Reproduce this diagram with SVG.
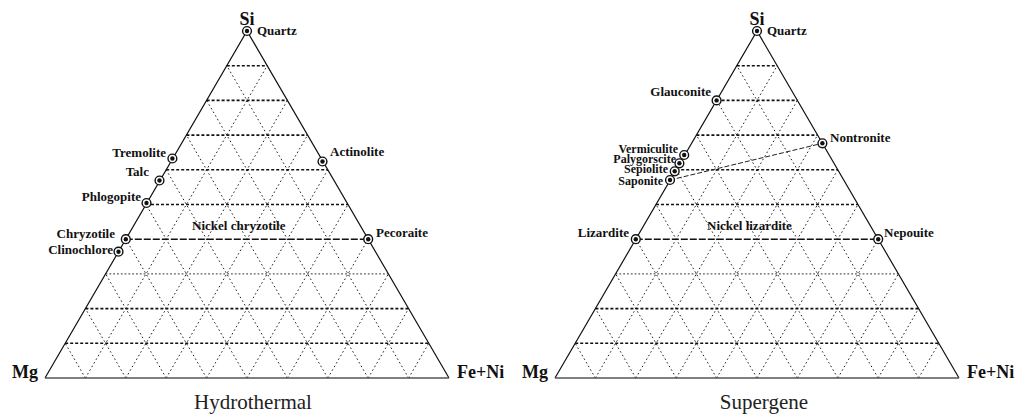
<svg xmlns="http://www.w3.org/2000/svg" xmlns:xlink="http://www.w3.org/1999/xlink" width="1016" height="415" viewBox="0 0 1016 415">
<style>
.bg{fill:#fff}
.tri{fill:none;stroke:#111;stroke-width:1.2}
.base{stroke:#555;stroke-width:1.6}
.diag{stroke:#222;stroke-width:1;stroke-dasharray:1.6 2.6;fill:none}
.hb{stroke:#111;stroke-width:1.6;stroke-dasharray:3 2;fill:none}
.ht{stroke:#333;stroke-width:1;stroke-dasharray:1.8 2;fill:none}
.conn{stroke:#111;stroke-width:1.4;stroke-dasharray:7 2;fill:none}
.conn2{stroke:#222;stroke-width:1;stroke-dasharray:5 2;fill:none}
.lbl{font-family:"Liberation Serif","Times New Roman",serif;font-weight:bold;font-size:13px;fill:#111}
.sm{font-size:12px}
.ax{font-family:"Liberation Serif","Times New Roman",serif;font-weight:bold;font-size:18px;fill:#111}
.cap{font-family:"Liberation Serif","Times New Roman",serif;font-size:21px;fill:#222}
.ring{fill:#fff;stroke:#111;stroke-width:1.4}
.dot{fill:#111}
</style>
<defs>
<g id="grid">
<g class="diag">
<line x1="85.4" y1="378" x2="267.2" y2="65.7"/>
<line x1="125.8" y1="378" x2="287.4" y2="100.4"/>
<line x1="166.2" y1="378" x2="307.6" y2="135.1"/>
<line x1="206.6" y1="378" x2="327.8" y2="169.8"/>
<line x1="247" y1="378" x2="348" y2="204.5"/>
<line x1="287.4" y1="378" x2="368.2" y2="239.2"/>
<line x1="327.8" y1="378" x2="388.4" y2="273.9"/>
<line x1="368.2" y1="378" x2="408.6" y2="308.6"/>
<line x1="408.6" y1="378" x2="428.8" y2="343.3"/>
<line x1="85.4" y1="378" x2="65.2" y2="343.3"/>
<line x1="125.8" y1="378" x2="85.4" y2="308.6"/>
<line x1="166.2" y1="378" x2="105.6" y2="273.9"/>
<line x1="206.6" y1="378" x2="125.8" y2="239.2"/>
<line x1="247" y1="378" x2="146" y2="204.5"/>
<line x1="287.4" y1="378" x2="166.2" y2="169.8"/>
<line x1="327.8" y1="378" x2="186.4" y2="135.1"/>
<line x1="368.2" y1="378" x2="206.6" y2="100.4"/>
<line x1="408.6" y1="378" x2="226.8" y2="65.7"/>
</g>
<g>
<line class="hb" x1="65.2" y1="343.3" x2="428.8" y2="343.3"/>
<line class="hb" x1="85.4" y1="308.6" x2="408.6" y2="308.6"/>
<line class="ht" x1="105.6" y1="273.9" x2="388.4" y2="273.9"/>
<line class="hb" x1="146" y1="204.5" x2="348" y2="204.5"/>
<line class="hb" x1="166.2" y1="169.8" x2="327.8" y2="169.8"/>
<line class="hb" x1="186.4" y1="135.1" x2="307.6" y2="135.1"/>
<line class="hb" x1="206.6" y1="100.4" x2="287.4" y2="100.4"/>
<line class="hb" x1="226.8" y1="65.7" x2="267.2" y2="65.7"/>
</g>
<polyline class="tri" points="45,378 247,31 449,378"/>
<line class="base" x1="45" y1="378" x2="449" y2="378"/>
</g>
<g id="pt"><circle class="ring" r="4.4"/><circle class="dot" r="2.2"/></g>
</defs>
<rect class="bg" width="1016" height="415"/>

<g id="triangle-hydrothermal"><use xlink:href="#grid"/></g>
<g id="triangle-supergene"><use xlink:href="#grid" transform="translate(510,0)"/></g>

<g id="connectors">
<line class="conn" x1="125.8" y1="239.2" x2="368.2" y2="239.2"/>
<line class="conn" x1="635.8" y1="239.2" x2="878.2" y2="239.2"/>
<line class="conn2" x1="670" y1="180" x2="822.4" y2="143.3"/>
</g>

<g id="axes">
<text class="ax" x="247" y="25" text-anchor="middle">Si</text>
<text class="ax" x="12" y="378">Mg</text>
<text class="ax" x="457" y="378">Fe+Ni</text>
<text class="ax" x="757" y="25" text-anchor="middle">Si</text>
<text class="ax" x="522" y="378">Mg</text>
<text class="ax" x="967" y="378">Fe+Ni</text>
<text class="cap" x="253" y="409" text-anchor="middle">Hydrothermal</text>
<text class="cap" x="764" y="409" text-anchor="middle">Supergene</text>
</g>

<g id="quartz-h"><use xlink:href="#pt" x="247" y="31"/><text class="lbl" x="257" y="35">Quartz</text></g>
<g id="tremolite"><use xlink:href="#pt" x="172.4" y="158.5"/><text class="lbl" x="166" y="157" text-anchor="end">Tremolite</text></g>
<g id="talc"><use xlink:href="#pt" x="159.5" y="180.5"/><text class="lbl" x="149" y="176" text-anchor="end">Talc</text></g>
<g id="phlogopite"><use xlink:href="#pt" x="146.5" y="203"/><text class="lbl" x="141" y="201" text-anchor="end">Phlogopite</text></g>
<g id="actinolite"><use xlink:href="#pt" x="322.5" y="161.5"/><text class="lbl" x="330" y="156">Actinolite</text></g>
<g id="chryzotile"><use xlink:href="#pt" x="125.8" y="239.2"/><text class="lbl" x="115" y="238" text-anchor="end">Chryzotile</text></g>
<g id="clinochlore"><use xlink:href="#pt" x="118.5" y="251.7"/><text class="lbl" x="113" y="254" text-anchor="end">Clinochlore</text></g>
<g id="pecoraite"><use xlink:href="#pt" x="368.2" y="239.2"/><text class="lbl" x="376" y="237">Pecoraite</text></g>
<g id="nickel-chryzotile"><text class="lbl" x="192" y="230">Nickel chryzotile</text></g>

<g id="quartz-s"><use xlink:href="#pt" x="757" y="31"/><text class="lbl" x="767" y="35">Quartz</text></g>
<g id="glauconite"><use xlink:href="#pt" x="716.6" y="100.4"/><text class="lbl" x="711" y="96" text-anchor="end">Glauconite</text></g>
<g id="nontronite"><use xlink:href="#pt" x="822.4" y="143.3"/><text class="lbl" x="830" y="142">Nontronite</text></g>
<g id="vermiculite"><use xlink:href="#pt" x="684.2" y="155"/><text class="lbl sm" x="678" y="153" text-anchor="end">Vermiculite</text></g>
<g id="palygorscite"><use xlink:href="#pt" x="679.4" y="163.3"/><text class="lbl sm" x="676" y="163" text-anchor="end">Palygorscite</text></g>
<g id="sepiolite"><use xlink:href="#pt" x="674.7" y="171.3"/><text class="lbl sm" x="668" y="173" text-anchor="end">Sepiolite</text></g>
<g id="saponite"><use xlink:href="#pt" x="670" y="180"/><text class="lbl sm" x="663" y="184.5" text-anchor="end">Saponite</text></g>
<g id="lizardite"><use xlink:href="#pt" x="635.8" y="239.2"/><text class="lbl" x="629" y="237" text-anchor="end">Lizardite</text></g>
<g id="nepouite"><use xlink:href="#pt" x="878.2" y="239.2"/><text class="lbl" x="884" y="237">Nepouite</text></g>
<g id="nickel-lizardite"><text class="lbl" x="707" y="230">Nickel lizardite</text></g>
</svg>
